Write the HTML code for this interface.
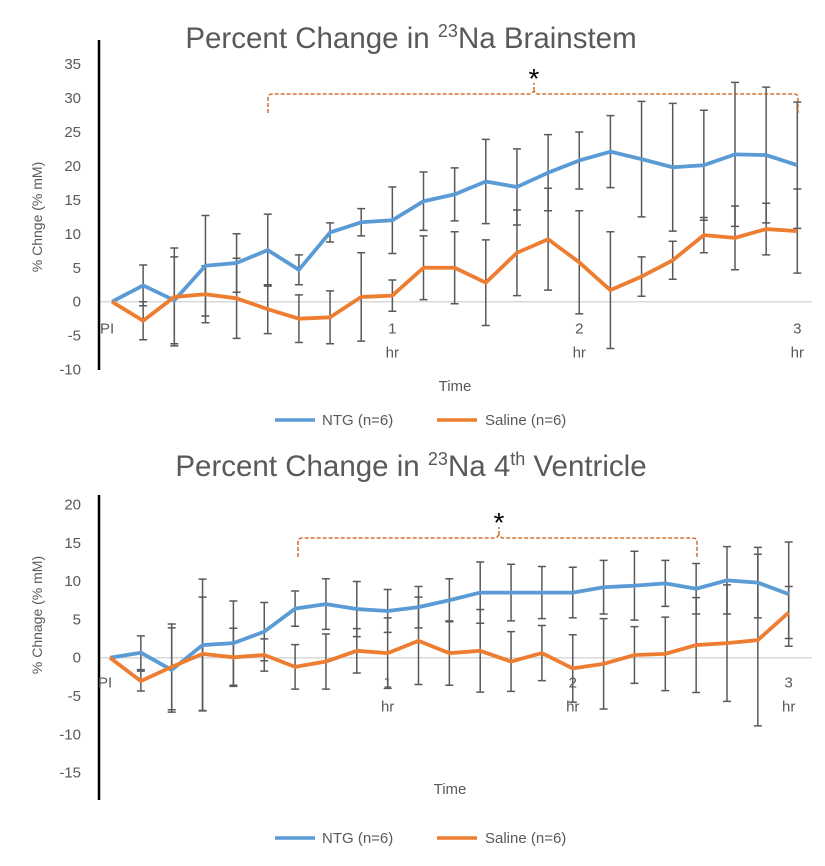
<!DOCTYPE html>
<html><head><meta charset="utf-8"><style>
body{margin:0;background:#fff;font-family:"Liberation Sans",sans-serif}
svg{display:block}
</style></head><body>
<svg id="s" width="825" height="866" xmlns="http://www.w3.org/2000/svg" font-family="Liberation Sans, sans-serif"></svg>
<script>
const timeCats = ["PI","","","","","","","","","1 hr","","","","","","2 hr","","","","","","","3 hr"];
const yTicksTop = [35,30,25,20,15,10,5,0,-5,-10];
const yTicksBot = [20,15,10,5,0,-5,-10,-15];
const ntgTop = [0,2.4,0.2,5.3,5.7,7.6,4.7,10.2,11.7,12.0,14.8,15.8,17.7,16.9,19.0,20.8,22.1,21.0,19.8,20.1,21.7,21.6,20.1];
const ntgTopErr = [0,3,6.4,7.4,4.3,5.3,2.2,1.4,2.0,4.9,4.3,3.9,6.2,5.6,5.6,4.2,5.3,8.5,9.4,8.1,10.6,10.0,9.3];
const salTop = [0,-2.8,0.7,1.1,0.5,-1.1,-2.5,-2.3,0.7,0.9,5.0,5.0,2.8,7.2,9.2,5.8,1.7,3.7,6.1,9.8,9.4,10.7,10.4];
const salTopErr = [0,2.8,7.2,4.2,5.9,3.6,3.5,3.9,6.5,2.3,4.7,5.3,6.3,6.3,7.5,7.6,8.6,2.9,2.8,2.6,4.7,3.8,6.2];
const ntgBot = [0,0.65,-1.6,1.65,1.9,3.4,6.4,7.0,6.35,6.1,6.6,7.5,8.5,8.5,8.5,8.5,9.2,9.4,9.7,9.0,10.1,9.8,8.3];
const ntgBotErr = [0,2.2,5.5,8.6,5.5,3.8,2.3,3.3,3.6,2.8,2.7,2.8,4.0,3.7,3.4,3.3,3.5,4.5,3.0,3.3,4.4,4.6,6.8];
const salBot = [0,-3.05,-1.2,0.5,0.05,0.35,-1.2,-0.5,0.9,0.6,2.2,0.6,0.9,-0.5,0.6,-1.4,-0.8,0.35,0.5,1.65,1.9,2.3,5.9];
const salBotErr = [0,1.3,5.6,7.4,3.8,2.1,2.9,3.6,2.9,4.6,5.7,4.2,5.4,3.9,3.6,4.4,5.9,3.7,4.8,6.2,7.6,11.2,3.4];

const NS="http://www.w3.org/2000/svg";
const svg=document.getElementById('s');
function mk(tag,attrs,parent){const e=document.createElementNS(NS,tag);for(const k in attrs)e.setAttribute(k,attrs[k]);(parent||svg).appendChild(e);return e;}

function chart(o){
  const g=mk('g',{});
  
  
  const X=i=>o.x0+i*o.dx;
  const Y=v=>o.zeroY-v*o.ppu;
  const t=mk('text',{x:411,y:o.titleY,'text-anchor':'middle','font-size':29.5,fill:'#595959'},g);
  
  
  t.innerHTML=o.titleHTML;
  const zl=mk('line',{x1:99,x2:812,y1:Y(0),y2:Y(0),stroke:'#d9d9d9','stroke-width':1.5},g);
  
  
  const ax=mk('line',{x1:99,x2:99,y1:o.axTop,y2:o.axBot,stroke:'#000','stroke-width':2.5},g);
  
  
  o.ticks.forEach(v=>{
    const tl=mk('text',{x:81,y:Y(v)+5,'text-anchor':'end','font-size':15,fill:'#595959'},g);
    
    
    tl.textContent=v;
  });
  const yt=mk('text',{transform:`translate(${o.ytX},${o.ytY}) rotate(-90)`,'text-anchor':'middle','font-size':14,fill:'#595959'},g);
  
  
  yt.textContent=o.ytitle;
  timeCats.forEach((c,i)=>{
    if(!c)return;
    const parts=c.split(' ');
    const xl=mk('text',{x:X(i)+(i===0?-12:0),y:Y(0)+o.xlOff,'text-anchor':i===0?'start':'middle','font-size':15,fill:'#595959'},g);
    
    
    xl.textContent=parts[0];
    if(parts[1]){
      const x2=mk('text',{x:X(i),y:Y(0)+o.xlOff+24,'text-anchor':'middle','font-size':15,fill:'#595959'},g);
      
      
      x2.textContent=parts[1];
    }
  });
  const xt=mk('text',{x:o.timeX,y:o.timeY,'text-anchor':'middle','font-size':15,fill:'#595959'},g);
  
  
  xt.textContent='Time';
  [[o.ntg,o.ntgErr,'ntg'],[o.sal,o.salErr,'saline']].forEach(([vals,errs,nm])=>{
    vals.forEach((v,i)=>{
      if(i===0)return;
      const e=errs[i];
      const eb=mk('path',{d:`M${X(i)},${Y(v+e)}V${Y(v-e)}M${X(i)-4},${Y(v+e)}h8M${X(i)-4},${Y(v-e)}h8`,stroke:'#595959','stroke-width':1.5,fill:'none'},g);
      
      
    });
  });
  [[o.ntg,'#5b9bd5','ntg-line'],[o.sal,'#ed7d31','saline-line']].forEach(([vals,col,nm])=>{
    const p=mk('polyline',{points:vals.map((v,i)=>X(i)+','+Y(v)).join(' '),fill:'none',stroke:col,'stroke-width':3.8,'stroke-linejoin':'round'},g);
    
    
  });
  const b=o.br;
  const br=mk('path',{d:`M${b.x1},${b.yb}V${b.y+4}q0,-4 4,-4H${b.mx-3}l3,-3l3,3H${b.x2-4}q4,0 4,4V${b.yb}M${b.mx},${b.y-3}v-8`,stroke:'#c55a11','stroke-width':1.3,fill:'none','stroke-dasharray':'4,2'},g);
  
  
  const st=mk('text',{x:b.mx,y:b.y-6,'text-anchor':'middle','font-size':28,fill:'#000'},g);
  
  
  st.textContent='*';
  const lg=mk('g',{},g);
  
  
  [[275,322,'#5b9bd5','NTG (n=6)','legend-ntg'],[437,485,'#ed7d31','Saline (n=6)','legend-saline']].forEach(([lx,tx,col,lab,nm])=>{
    const l=mk('line',{x1:lx,x2:lx+40,y1:o.legY,y2:o.legY,stroke:col,'stroke-width':3.5},lg);
    
    
    const tt=mk('text',{x:tx,y:o.legY+5,'font-size':15,fill:'#595959'},lg);
    
    
    tt.textContent=lab;
  });
}

chart({name:'brainstem-chart',titleHTML:'Percent Change in <tspan font-size="18" dy="-11">23</tspan><tspan dy="11">Na Brainstem</tspan>',titleY:48,x0:112,dx:31.15,zeroY:301.7,ppu:6.79,ticks:yTicksTop,
  axTop:40,axBot:370,ytX:42,ytY:217,ytitle:'% Chnge (% mM)',xlOff:32,timeX:455,timeY:391,legY:420,
  ntg:ntgTop,ntgErr:ntgTopErr,sal:salTop,salErr:salTopErr,br:{x1:268,x2:798,mx:534,y:94,yb:113}});
chart({name:'fourth-ventricle-chart',titleHTML:'Percent Change in <tspan font-size="18" dy="-11">23</tspan><tspan dy="11">Na 4</tspan><tspan font-size="18" dy="-11">th</tspan><tspan dy="11"> Ventricle</tspan>',titleY:476,x0:110,dx:30.85,zeroY:657.7,ppu:7.66,ticks:yTicksBot,
  axTop:495,axBot:800,ytX:42,ytY:615,ytitle:'% Chnage (% mM)',xlOff:30,timeX:450,timeY:794,legY:838,
  ntg:ntgBot,ntgErr:ntgBotErr,sal:salBot,salErr:salBotErr,br:{x1:298,x2:697,mx:499,y:538,yb:557}});
</script>
</body></html>
